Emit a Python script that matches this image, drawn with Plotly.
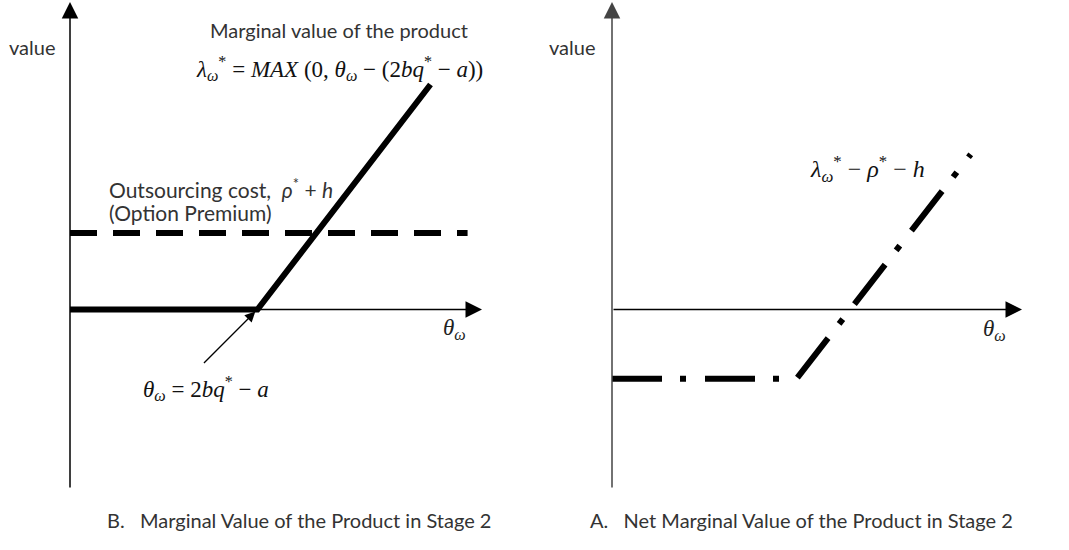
import plotly.graph_objects as go

W, H = 1069, 550

# ---- data (theta in arbitrary units, values in arbitrary units) ----
left_theta = [0.0, 4.55, 8.75]          # marginal value curve breakpoints
left_value = [0.0, 0.0, 5.45]
premium_theta = [0.0, 9.65]             # outsourcing cost (option premium)
premium_value = [1.85, 1.85]

right_theta = [0.0, 4.5, 8.75]          # net marginal value curve
right_value = [-1.68, -1.68, 3.76]

x_range = [0, 10]
y_range = [-4.35, 7.45]

def px(x):
    return x / W

def py(y):
    return 1 - y / H

fig = go.Figure()

# panel domains (pixels)
L = dict(x0=70, x1=482)
R = dict(x0=612, x1=1022)
ytop, ybot = 2, 489

fig.add_trace(go.Scatter(x=left_theta, y=left_value, mode="lines",
                         line=dict(color="black", width=6), xaxis="x", yaxis="y",
                         showlegend=False, hoverinfo="skip"))
fig.add_trace(go.Scatter(x=premium_theta, y=premium_value, mode="lines",
                         line=dict(color="black", width=6, dash="27px,16px"),
                         xaxis="x", yaxis="y", showlegend=False, hoverinfo="skip"))
fig.add_trace(go.Scatter(x=right_theta, y=right_value, mode="lines",
                         line=dict(color="black", width=6, dash="50px,18px,6px,19px"),
                         xaxis="x2", yaxis="y2", showlegend=False, hoverinfo="skip"))

ax_common = dict(visible=False, range=x_range, fixedrange=True)
ay_common = dict(visible=False, range=y_range, fixedrange=True)
fig.update_layout(
    width=W, height=H,
    margin=dict(l=0, r=0, t=0, b=0),
    paper_bgcolor="white", plot_bgcolor="rgba(0,0,0,0)",
    xaxis=dict(domain=[px(L["x0"]), px(L["x1"])], anchor="y", **ax_common),
    yaxis=dict(domain=[py(ybot), py(ytop)], anchor="x", **ay_common),
    xaxis2=dict(domain=[px(R["x0"]), px(R["x1"])], anchor="y2", **ax_common),
    yaxis2=dict(domain=[py(ybot), py(ytop)], anchor="x2", **ay_common),
)

anns = []
# axis arrows
for xa, ya, ycol in (("x", "y", "black"), ("x2", "y2", "#444")):
    anns.append(dict(x=0, y=y_range[1], ax=0, ay=y_range[0], xref=xa, yref=ya,
                     axref=xa, ayref=ya, showarrow=True, arrowhead=2, arrowsize=2.2,
                     arrowwidth=1.5, arrowcolor=ycol, text=""))
    anns.append(dict(x=x_range[1], y=0, ax=0, ay=0, xref=xa, yref=ya,
                     axref=xa, ayref=ya, showarrow=True, arrowhead=2, arrowsize=2.2,
                     arrowwidth=1.5, arrowcolor="black", text=""))

# pointer arrow to the kink
anns.append(dict(x=left_theta[1], y=left_value[1], ax=-55, ay=55,
                 xref="x", yref="y", showarrow=True, arrowhead=2, arrowsize=1.6,
                 arrowwidth=1.3, arrowcolor="black", text="", standoff=3))

sans = "Lato, Calibri, Carlito, sans-serif"
serif = "Liberation Serif, Times New Roman, serif"
txt = "#333333"

def label(x, y, text, family=sans, size=20, color=txt, anchor="left"):
    anns.append(dict(x=px(x), y=py(y), xref="paper", yref="paper", text=text,
                     showarrow=False, xanchor=anchor, yanchor="middle",
                     font=dict(family=family, size=size, color=color)))

label(57, 47, "value", anchor="right")
label(597, 47, "value", anchor="right")
label(208, 30, "Marginal value of the product")
label(194, 68, "<i>λ</i><sub><i>ω</i></sub><sup>*</sup> = <i>MAX</i> (0, <i>θ</i><sub><i>ω</i></sub> − (2<i>bq</i><sup>*</sup> − <i>a</i>))",
      family=serif, size=23, color="#111")
label(107, 188, "Outsourcing cost,  <i>ρ</i><sup>*</sup> + <i>h</i>", size=21)
label(107, 213, "(Option Premium)", size=21)
label(441, 329, "<i>θ</i><sub><i>ω</i></sub>", family=serif, size=23, color="#222")
label(981, 330, "<i>θ</i><sub><i>ω</i></sub>", family=serif, size=23, color="#222")
label(141, 388, "<i>θ</i><sub><i>ω</i></sub> = 2<i>bq</i><sup>*</sup> − <i>a</i>", family=serif, size=23, color="#111")
label(808, 169, "<i>λ</i><sub><i>ω</i></sub><sup>*</sup> − <i>ρ</i><sup>*</sup> − <i>h</i>", family=serif, size=24, color="#111")
label(105, 520, "B.   Marginal Value of the Product in Stage 2")
label(588, 520, "A.   Net Marginal Value of the Product in Stage 2")

fig.update_layout(annotations=anns)
fig.write_html("out.html", config={"displayModeBar": False},
               post_script="document.body.style.margin='0';")
